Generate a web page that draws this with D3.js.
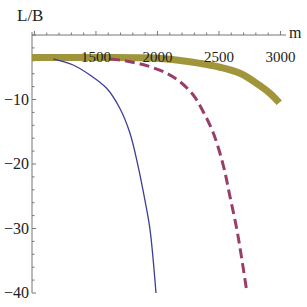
<!DOCTYPE html>
<html>
<head>
<meta charset="utf-8">
<script src="https://cdn.jsdelivr.net/npm/d3@7"></script>
<style>
body { margin: 0; background: #fff; }
text { font-family: "Liberation Serif", "DejaVu Serif", serif; fill: #222; }
</style>
</head>
<body>
<div id="chart"></div>
<script>
var w = 307, h = 307;

// series: [m, L/B]
var blueM = [1153, 1315, 1451, 1587, 1695, 1776, 1841, 1898, 1939, 1988];
var blueV = [-3.7, -4.65, -6.2, -8.26, -11.4, -15.2, -20.2, -25.6, -30.1, -40];
var redM = [1614, 1776, 1939, 2075, 2183, 2291, 2372, 2454, 2535, 2590, 2646, 2687, 2728];
var redV = [-3.7, -4.14, -4.91, -5.94, -7.24, -9.3, -11.9, -15.2, -20.2, -25.1, -30.2, -34.9, -40];
var oliveM = [980, 1500, 1988, 2183, 2346, 2508, 2671, 2806, 2915, 2990];
var oliveV = [-3.5, -3.5, -3.6, -3.95, -4.4, -5.0, -5.94, -7.49, -9.04, -10.5];

var xTicks = [1500, 2000, 2500, 3000];
var yTicks = [-10, -20, -30, -40];

var zip = function(a, b) {
	return a.map(function(d, i) { return {m: d, v: b[i]}; });
};

var svg = d3.select("#chart")
			.append("svg")
			.attr("width", w)
			.attr("height", h);

var xScale = d3.scaleLinear()
				.domain([980, 3045])
				.range([32, 286]);
var yScale = d3.scaleLinear()
				.domain([0, -40])
				.range([35, 293]);

/*Axes*/
var axisCol = "#777";
svg.append("line")
	.attr("x1", 32).attr("x2", 286)
	.attr("y1", yScale(0)).attr("y2", yScale(0))
	.attr("stroke", axisCol).attr("stroke-width", 1);
svg.append("line")
	.attr("x1", 32).attr("x2", 32)
	.attr("y1", 32).attr("y2", yScale(-40))
	.attr("stroke", axisCol).attr("stroke-width", 1);

// x ticks (point up from the axis)
var xMinor = d3.range(1000, 3001, 100);
svg.selectAll(".xt")
	.data(xMinor)
	.enter()
	.append("line")
	.attr("x1", function(d) { return xScale(d); })
	.attr("x2", function(d) { return xScale(d); })
	.attr("y1", yScale(0))
	.attr("y2", function(d) { return yScale(0) - (d % 500 == 0 ? 4 : 2.5); })
	.attr("stroke", axisCol);

// y ticks (point right from the axis)
var yMinor = d3.range(0, -41, -2);
svg.selectAll(".yt")
	.data(yMinor)
	.enter()
	.append("line")
	.attr("x1", 32)
	.attr("x2", function(d) { return 32 + (d % 10 == 0 ? 4 : 2.5); })
	.attr("y1", function(d) { return yScale(d); })
	.attr("y2", function(d) { return yScale(d); })
	.attr("stroke", axisCol);

/*Lines*/
var line = d3.line()
			.curve(d3.curveCatmullRom)
			.x(function(d) { return xScale(d.m); })
			.y(function(d) { return yScale(d.v); });

svg.append("path")
	.datum(zip(oliveM, oliveV))
	.attr("d", line)
	.attr("fill", "none")
	.attr("stroke", "#a0953a")
	.attr("stroke-width", 7);

svg.append("path")
	.datum(zip(blueM, blueV))
	.attr("d", line)
	.attr("fill", "none")
	.attr("stroke", "#3d3d99")
	.attr("stroke-width", 1.3);

svg.append("path")
	.datum(zip(redM, redV))
	.attr("d", line)
	.attr("fill", "none")
	.attr("stroke", "#993d6b")
	.attr("stroke-width", 3)
	.attr("stroke-dasharray", "10,5");

/*Tick labels*/
svg.selectAll(".xl")
	.data(xTicks)
	.enter()
	.append("text")
	.attr("x", function(d) { return xScale(d); })
	.attr("y", 62)
	.attr("text-anchor", "middle")
	.attr("font-size", 15)
	.text(function(d) { return d; });

svg.selectAll(".yl")
	.data(yTicks)
	.enter()
	.append("text")
	.attr("x", 29)
	.attr("y", function(d) { return yScale(d) + 5; })
	.attr("text-anchor", "end")
	.attr("font-size", 16)
	.text(function(d) { return "\u2212" + Math.abs(d); });

svg.append("text")
	.attr("x", 17)
	.attr("y", 21)
	.attr("font-size", 17)
	.text("L/B");

svg.append("text")
	.attr("x", 289)
	.attr("y", 38)
	.attr("font-size", 16)
	.text("m");
</script>
</body>
</html>
